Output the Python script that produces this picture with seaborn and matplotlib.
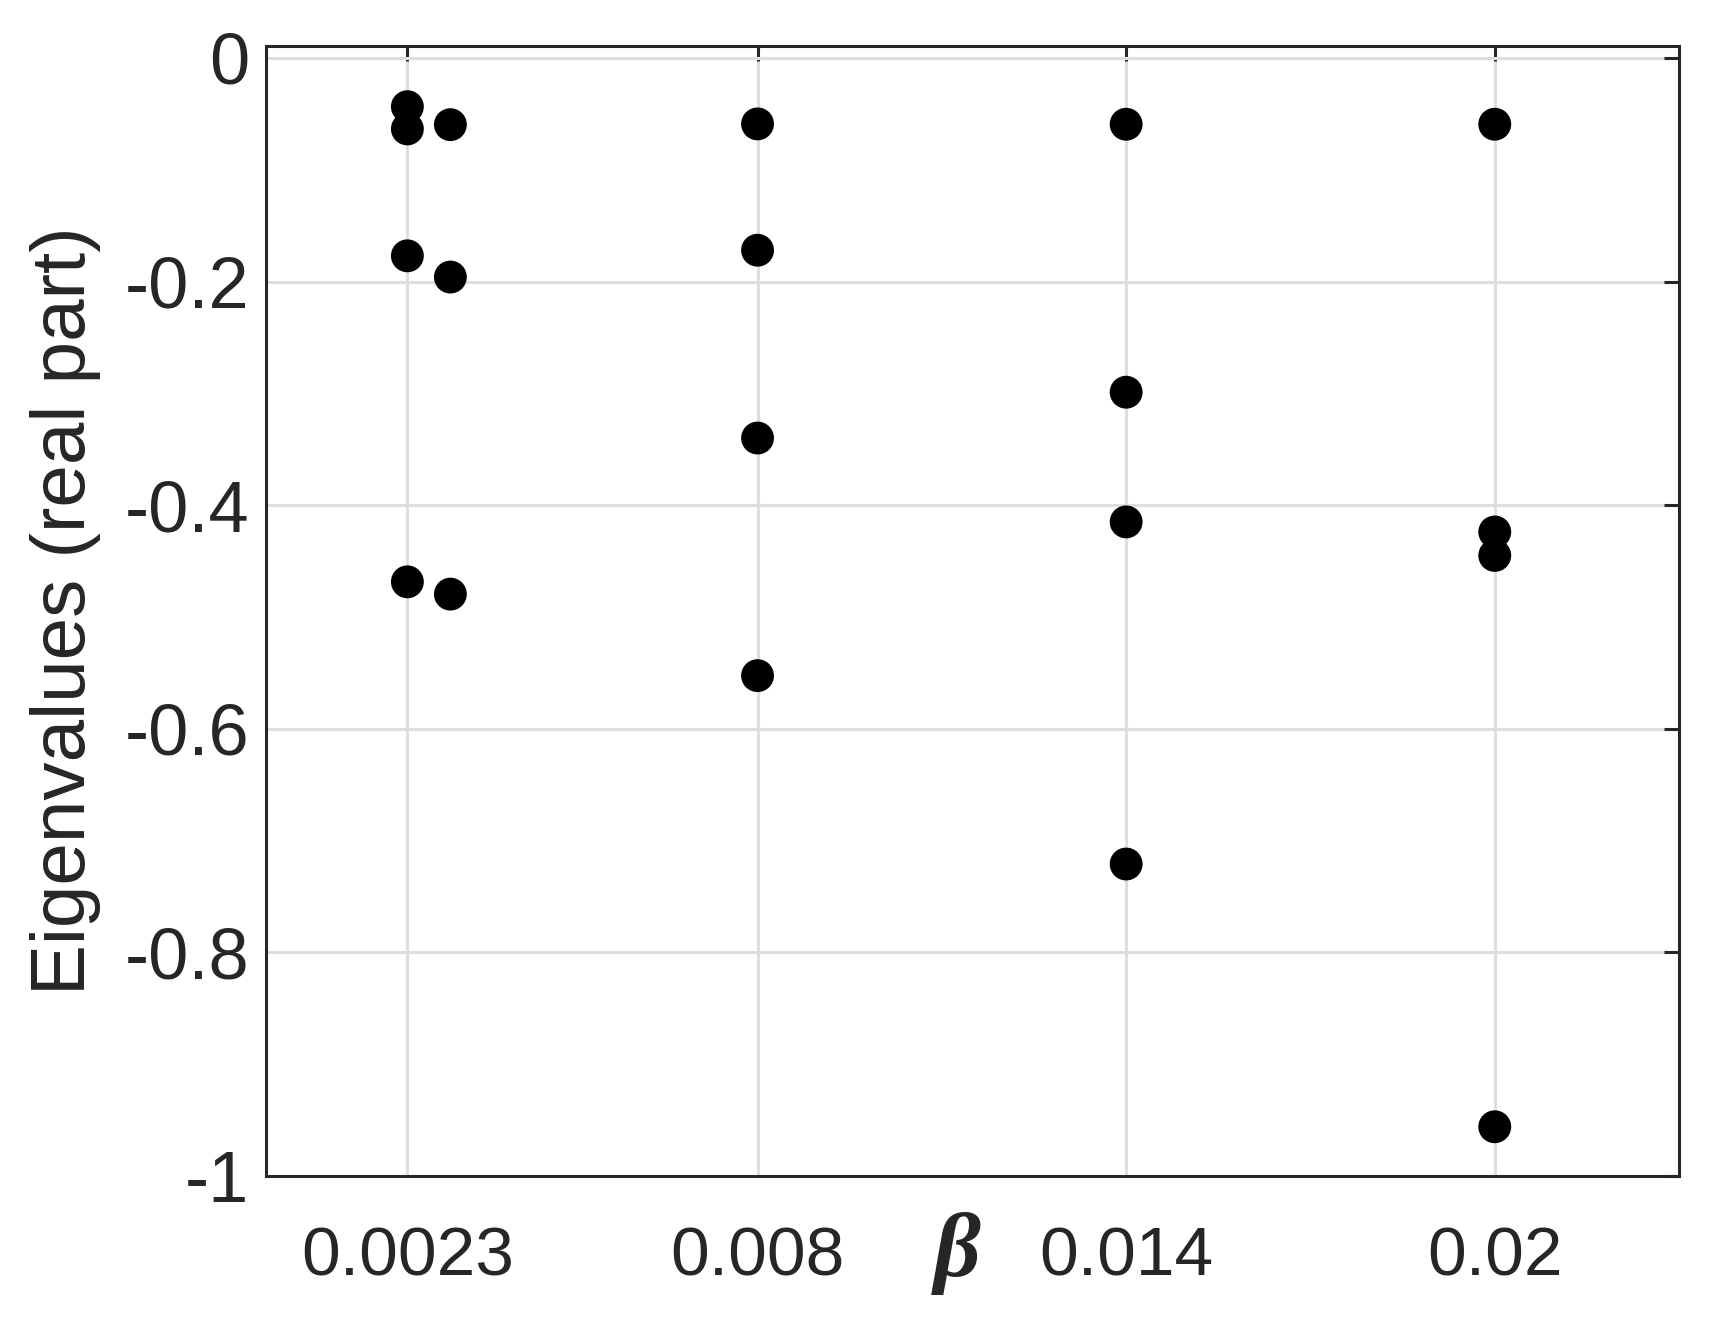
import numpy as np
import pandas as pd
import matplotlib
matplotlib.use("Agg")
import matplotlib.pyplot as plt
import seaborn as sns

# beta values and real parts of eigenvalues
beta = [0.0023, 0.0023, 0.0023, 0.0023,
        0.003, 0.003, 0.003,
        0.008, 0.008, 0.008, 0.008,
        0.014, 0.014, 0.014, 0.014,
        0.02, 0.02, 0.02, 0.02]
eig_real = [-0.0436, -0.0635, -0.177, -0.4686,
            -0.0597, -0.196, -0.4796,
            -0.059, -0.172, -0.340, -0.5525,
            -0.0593, -0.299, -0.415, -0.721,
            -0.0593, -0.424, -0.445, -0.956]
xticks = [0.0023, 0.008, 0.014, 0.02]
xticklabels = ["0.0023", "0.008", "0.014", "0.02"]
yticks = [0, -0.2, -0.4, -0.6, -0.8, -1]
yticklabels = ["0", "-0.2", "-0.4", "-0.6", "-0.8", "-1"]

df = pd.DataFrame({"beta": beta, "eig": eig_real})

sns.set_style("white")
plt.rcParams["font.family"] = ["Liberation Sans", "DejaVu Sans"]
plt.rcParams["axes.unicode_minus"] = False

txt = "#262626"
fig = plt.figure(figsize=(17.1, 13.17), dpi=100)
ax = fig.add_axes([0.1556, 0.1071, 0.9819 - 0.1556, 0.9651 - 0.1071])

sns.scatterplot(data=df, x="beta", y="eig", ax=ax, color="black",
                s=560, edgecolor="none", linewidth=0, zorder=3)

ax.set_xlim(0, 0.023)
ax.set_ylim(-1, 0.0107)
ax.set_xticks(xticks)
ax.set_xticklabels(xticklabels)
ax.set_yticks(yticks)
ax.set_yticklabels(yticklabels)

ax.grid(True, color="#dedede", linewidth=2.2, zorder=0)
ax.set_axisbelow(True)
for sp in ax.spines.values():
    sp.set_visible(True)
    sp.set_color(txt)
    sp.set_linewidth(2.2)

ax.tick_params(axis="both", direction="in", length=11, width=2.2,
               color=txt, labelcolor=txt, labelsize=50,
               top=True, right=True)
ax.tick_params(axis="x", pad=36)
ax.tick_params(axis="y", pad=12, labelsize=52)

ax.set_ylabel("Eigenvalues (real part)", fontsize=55, color=txt)
ax.yaxis.set_label_coords(-0.117, 0.5)
ax.set_xlabel("β", fontsize=66, color=txt, fontweight="bold",
              family=["Liberation Serif", "DejaVu Serif"], style="italic")
ax.xaxis.set_label_coords(0.489, -0.069)
ax.xaxis.label.set_va("center")

fig.savefig("out.png", dpi=100)
